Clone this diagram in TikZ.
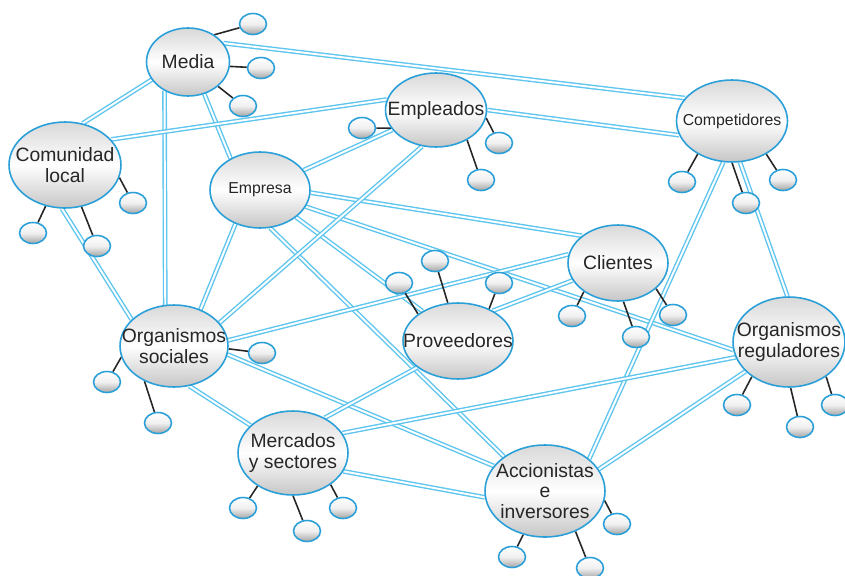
\documentclass[tikz,border=0pt]{standalone}
\usepackage{fontspec}
\setmainfont{Liberation Sans}
\usetikzlibrary{shapes,arrows,positioning,backgrounds}
\definecolor{rim}{HTML}{2A9FD8}
\definecolor{wire}{HTML}{5EC5EE}
\tikzstyle{stakeholder} = [ellipse, draw=rim, line width=0.9pt, top color=gray!30, bottom color=gray!45, middle color=white, inner sep=0pt]
\tikzstyle{leaf} = [ellipse, draw=rim, line width=0.9pt, top color=white, bottom color=gray!70, middle color=gray!12, minimum width=0.54cm, minimum height=0.42cm, inner sep=0pt]
\tikzstyle{grouptext} = [font=\fontsize{11}{11.5}\selectfont, align=center, text=black!85]
\tikzstyle{smalltext} = [font=\fontsize{9}{11}\selectfont, text=black!85]
\tikzstyle{link} = [draw=wire, line width=0.8pt, double=white, double distance=1.1pt]
\tikzstyle{stem} = [draw, line width=0.9pt, black!85]

\begin{document}
\begin{tikzpicture}[x=0.02cm, y=-0.02cm, auto]
    \useasboundingbox (0,0) rectangle (845,575);
    % Place nodes
    \node [stakeholder, minimum width=1.66cm, minimum height=1.36cm, label={[grouptext]center:Media}] (media) at (188,62) {};
    \node [stakeholder, minimum width=2.02cm, minimum height=1.48cm, label={[grouptext]center:Empleados}] (empleados) at (436,110) {};
    \node [stakeholder, minimum width=2.22cm, minimum height=1.64cm, label={[smalltext]center:Competidores}] (competidores) at (732,121) {};
    \node [stakeholder, minimum width=2.24cm, minimum height=1.72cm, label={[grouptext]center:{Comunidad\\local}}] (comunidad) at (65,165) {};
    \node [stakeholder, minimum width=2.0cm, minimum height=1.52cm, label={[smalltext]center:Empresa}] (empresa) at (260,190) {};
    \node [stakeholder, minimum width=2.0cm, minimum height=1.52cm, label={[grouptext]center:Clientes}] (clientes) at (618,263) {};
    \node [stakeholder, minimum width=2.16cm, minimum height=1.64cm, label={[grouptext]center:{Organismos\\sociales}}] (orgsoc) at (174,346) {};
    \node [stakeholder, minimum width=2.2cm, minimum height=1.52cm, label={[grouptext]center:Proveedores}] (proveedores) at (458,341) {};
    \node [stakeholder, minimum width=2.24cm, minimum height=1.8cm, label={[grouptext]center:{Organismos\\reguladores}}] (orgreg) at (789,342) {};
    \node [stakeholder, minimum width=2.2cm, minimum height=1.68cm, label={[grouptext]center:{Mercados\\y sectores}}] (mercados) at (293,453) {};
    \node [stakeholder, minimum width=2.4cm, minimum height=1.84cm, label={[grouptext]center:{Accionistas\\e\\inversores}}] (accionistas) at (545,491) {};
    % Small satellites
    \node [leaf] (m1) at (253,24) {};
    \node [leaf] (m2) at (261,68) {};
    \node [leaf] (m3) at (243,106) {};
    \node [leaf] (e1) at (362,128) {};
    \node [leaf] (e2) at (499,143) {};
    \node [leaf] (e3) at (481,180) {};
    \node [leaf] (c1) at (682,182) {};
    \node [leaf] (c2) at (746,203) {};
    \node [leaf] (c3) at (783,180) {};
    \node [leaf] (l1) at (33,233) {};
    \node [leaf] (l2) at (97,246) {};
    \node [leaf] (l3) at (133,203) {};
    \node [leaf] (k1) at (572,316) {};
    \node [leaf] (k2) at (636,337) {};
    \node [leaf] (k3) at (673,315) {};
    \node [leaf] (p1) at (399,283) {};
    \node [leaf] (p2) at (435,261) {};
    \node [leaf] (p3) at (499,283) {};
    \node [leaf] (s1) at (107,382) {};
    \node [leaf] (s2) at (158,423) {};
    \node [leaf] (s3) at (262,353) {};
    \node [leaf] (r1) at (737,405) {};
    \node [leaf] (r2) at (800,427) {};
    \node [leaf] (r3) at (835,405) {};
    \node [leaf] (x1) at (243,508) {};
    \node [leaf] (x2) at (307,531) {};
    \node [leaf] (x3) at (343,508) {};
    \node [leaf] (a1) at (512,557) {};
    \node [leaf] (a2) at (590,568) {};
    \node [leaf] (a3) at (617,524) {};
    % Draw edges
    \begin{scope}[on background layer]
    \path [link] (media.28) -- (competidores.154);
    \path [link] (media.206) -- (comunidad.67);
    \path [link] (media.231) -- (orgsoc.102);
    \path [link] (media.297) -- (empresa.133);
    \path [link] (comunidad.29) -- (empleados.168);
    \path [link] (comunidad.266) -- (orgsoc.148);
    \path [link] (empresa) -- (empleados);
    \path [link] (empresa.357) -- (clientes.143);
    \path [link] (empresa.340) -- (orgreg.188);
    \path [link] (empresa.323) -- (proveedores.140);
    \path [link] (empresa.285) -- (accionistas.140);
    \path [link] (empresa.234) -- (orgsoc.54);
    \path [link] (empleados.0) -- (competidores.195);
    \path [link] (empleados.249) -- (orgsoc.27);
    \path [link] (competidores.258) -- (accionistas.36);
    \path [link] (competidores.281) -- (orgreg.92);
    \path [link] (orgsoc.6) -- (clientes.170);
    \path [link] (clientes.201) -- (proveedores.41);
    \path [link] (orgsoc.351) -- (accionistas.154);
    \path [link] (orgsoc.291) -- (mercados.147);
    \path [link] (mercados.48) -- (proveedores.213);
    \path [link] (mercados.22) -- (orgreg.196);
    \path [link] (mercados.340) -- (accionistas.186);
    \path [link] (accionistas.22) -- (orgreg.214);
    % satellites
    \path [stem] (media.46) -- (m1);
    \path [stem] (media.354) -- (m2);
    \path [stem] (media.321) -- (m3);
    \path [stem] (empleados.202) -- (e1);
    \path [stem] (empleados.351) -- (e2);
    \path [stem] (empleados.316) -- (e3);
    \path [stem] (competidores.224) -- (c1);
    \path [stem] (competidores.270) -- (c2);
    \path [stem] (competidores.316) -- (c3);
    \path [stem] (comunidad) -- (l1);
    \path [stem] (comunidad) -- (l2);
    \path [stem] (comunidad.347) -- (l3);
    \path [stem] (clientes.220) -- (k1);
    \path [stem] (clientes.278) -- (k2);
    \path [stem] (clientes.326) -- (k3);
    \path [stem] (proveedores.146) -- (p1);
    \path [stem] (proveedores.105) -- (p2);
    \path [stem] (proveedores.46) -- (p3);
    \path [stem] (orgsoc.192) -- (s1);
    \path [stem] (orgsoc.230) -- (s2);
    \path [stem] (orgsoc.357) -- (s3);
    \path [stem] (orgreg.223) -- (r1);
    \path [stem] (orgreg.272) -- (r2);
    \path [stem] (orgreg.317) -- (r3);
    \path [stem] (mercados.223) -- (x1);
    \path [stem] (mercados.270) -- (x2);
    \path [stem] (mercados.320) -- (x3);
    \path [stem] (accionistas) -- (a1);
    \path [stem] (accionistas.307) -- (a2);
    \path [stem] (accionistas.351) -- (a3);
    \end{scope}
\end{tikzpicture}
\end{document}
